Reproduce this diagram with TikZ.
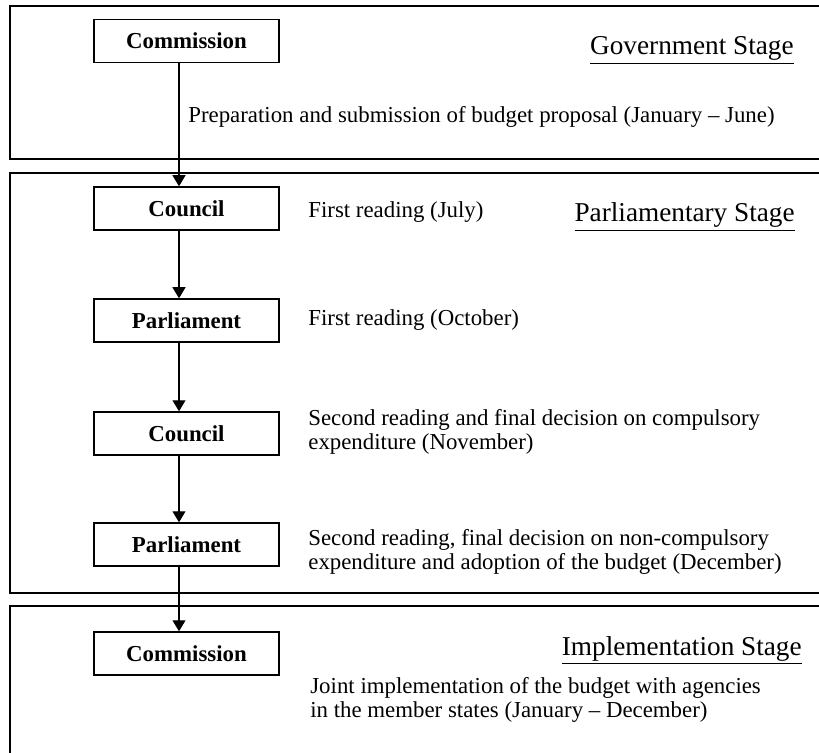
\documentclass[tikz,border=0pt]{standalone}
\usepackage{fontspec}
\setmainfont{Liberation Serif}
\usetikzlibrary{arrows.meta}
\begin{document}
\begin{tikzpicture}[
    frame/.style={line width=1.1pt},
    box/.style={draw,line width=0.85pt,minimum width=3.7cm,minimum height=0.86cm,
        inner sep=0pt,font=\fontsize{13}{14}\selectfont\bfseries},
    note/.style={anchor=west,align=left,inner sep=0pt,font=\fontsize{13}{14}\selectfont},
    stage/.style={anchor=base east,inner sep=0pt,font=\fontsize{15.5}{17}\selectfont},
    flow/.style={-{Triangle[width=0.26cm,length=0.22cm]},line width=0.6pt}
  ]
    \clip (0,0) rectangle (16.38,15.04);
    % the three stages
    \draw[frame] (0.2,11.86) rectangle (16.6,14.92);
    \draw[frame] (0.2,3.18) rectangle (16.6,11.58);
    \draw[frame] (0.2,-0.5) rectangle (16.6,2.92);
    \node (govt) [stage] at (15.88,13.94) {\underline{Government Stage}};
    \node (parl) [stage] at (15.9,10.6) {\underline{Parliamentary Stage}};
    \node (impl) [stage] at (16.04,1.94) {\underline{Implementation Stage}};
    % institutions
    \node (com1) [box] at (3.73,14.22) {Commission};
    \node (cou1) [box] at (3.73,10.87) {Council};
    \node (par1) [box] at (3.73,8.63) {Parliament};
    \node (cou2) [box] at (3.73,6.37) {Council};
    \node (par2) [box] at (3.73,4.15) {Parliament};
    \node (com2) [box] at (3.73,1.97) {Commission};
    \foreach \a/\b in {com1/cou1,cou1/par1,par1/cou2,cou2/par2,par2/com2}
        \draw[flow] ([xshift=-0.15cm]\a.south) -- ([xshift=-0.15cm]\b.north);
    % what happens
    \node (prep) [note] at (3.76,12.7) {Preparation and submission of budget proposal (January -- June)};
    \node (read1) [note] at (6.16,10.8) {First reading (July)};
    \node (read2) [note] at (6.16,8.64) {First reading (October)};
    \node (read3) [note] at (6.16,6.4) {Second reading and final decision on compulsory\\expenditure (November)};
    \node (read4) [note] at (6.16,4.0) {Second reading, final decision on non-compulsory\\expenditure and adoption of the budget (December)};
    \node (joint) [note] at (6.2,1.04) {Joint implementation of the budget with agencies\\in the member states (January -- December)};
\end{tikzpicture}
\end{document}
